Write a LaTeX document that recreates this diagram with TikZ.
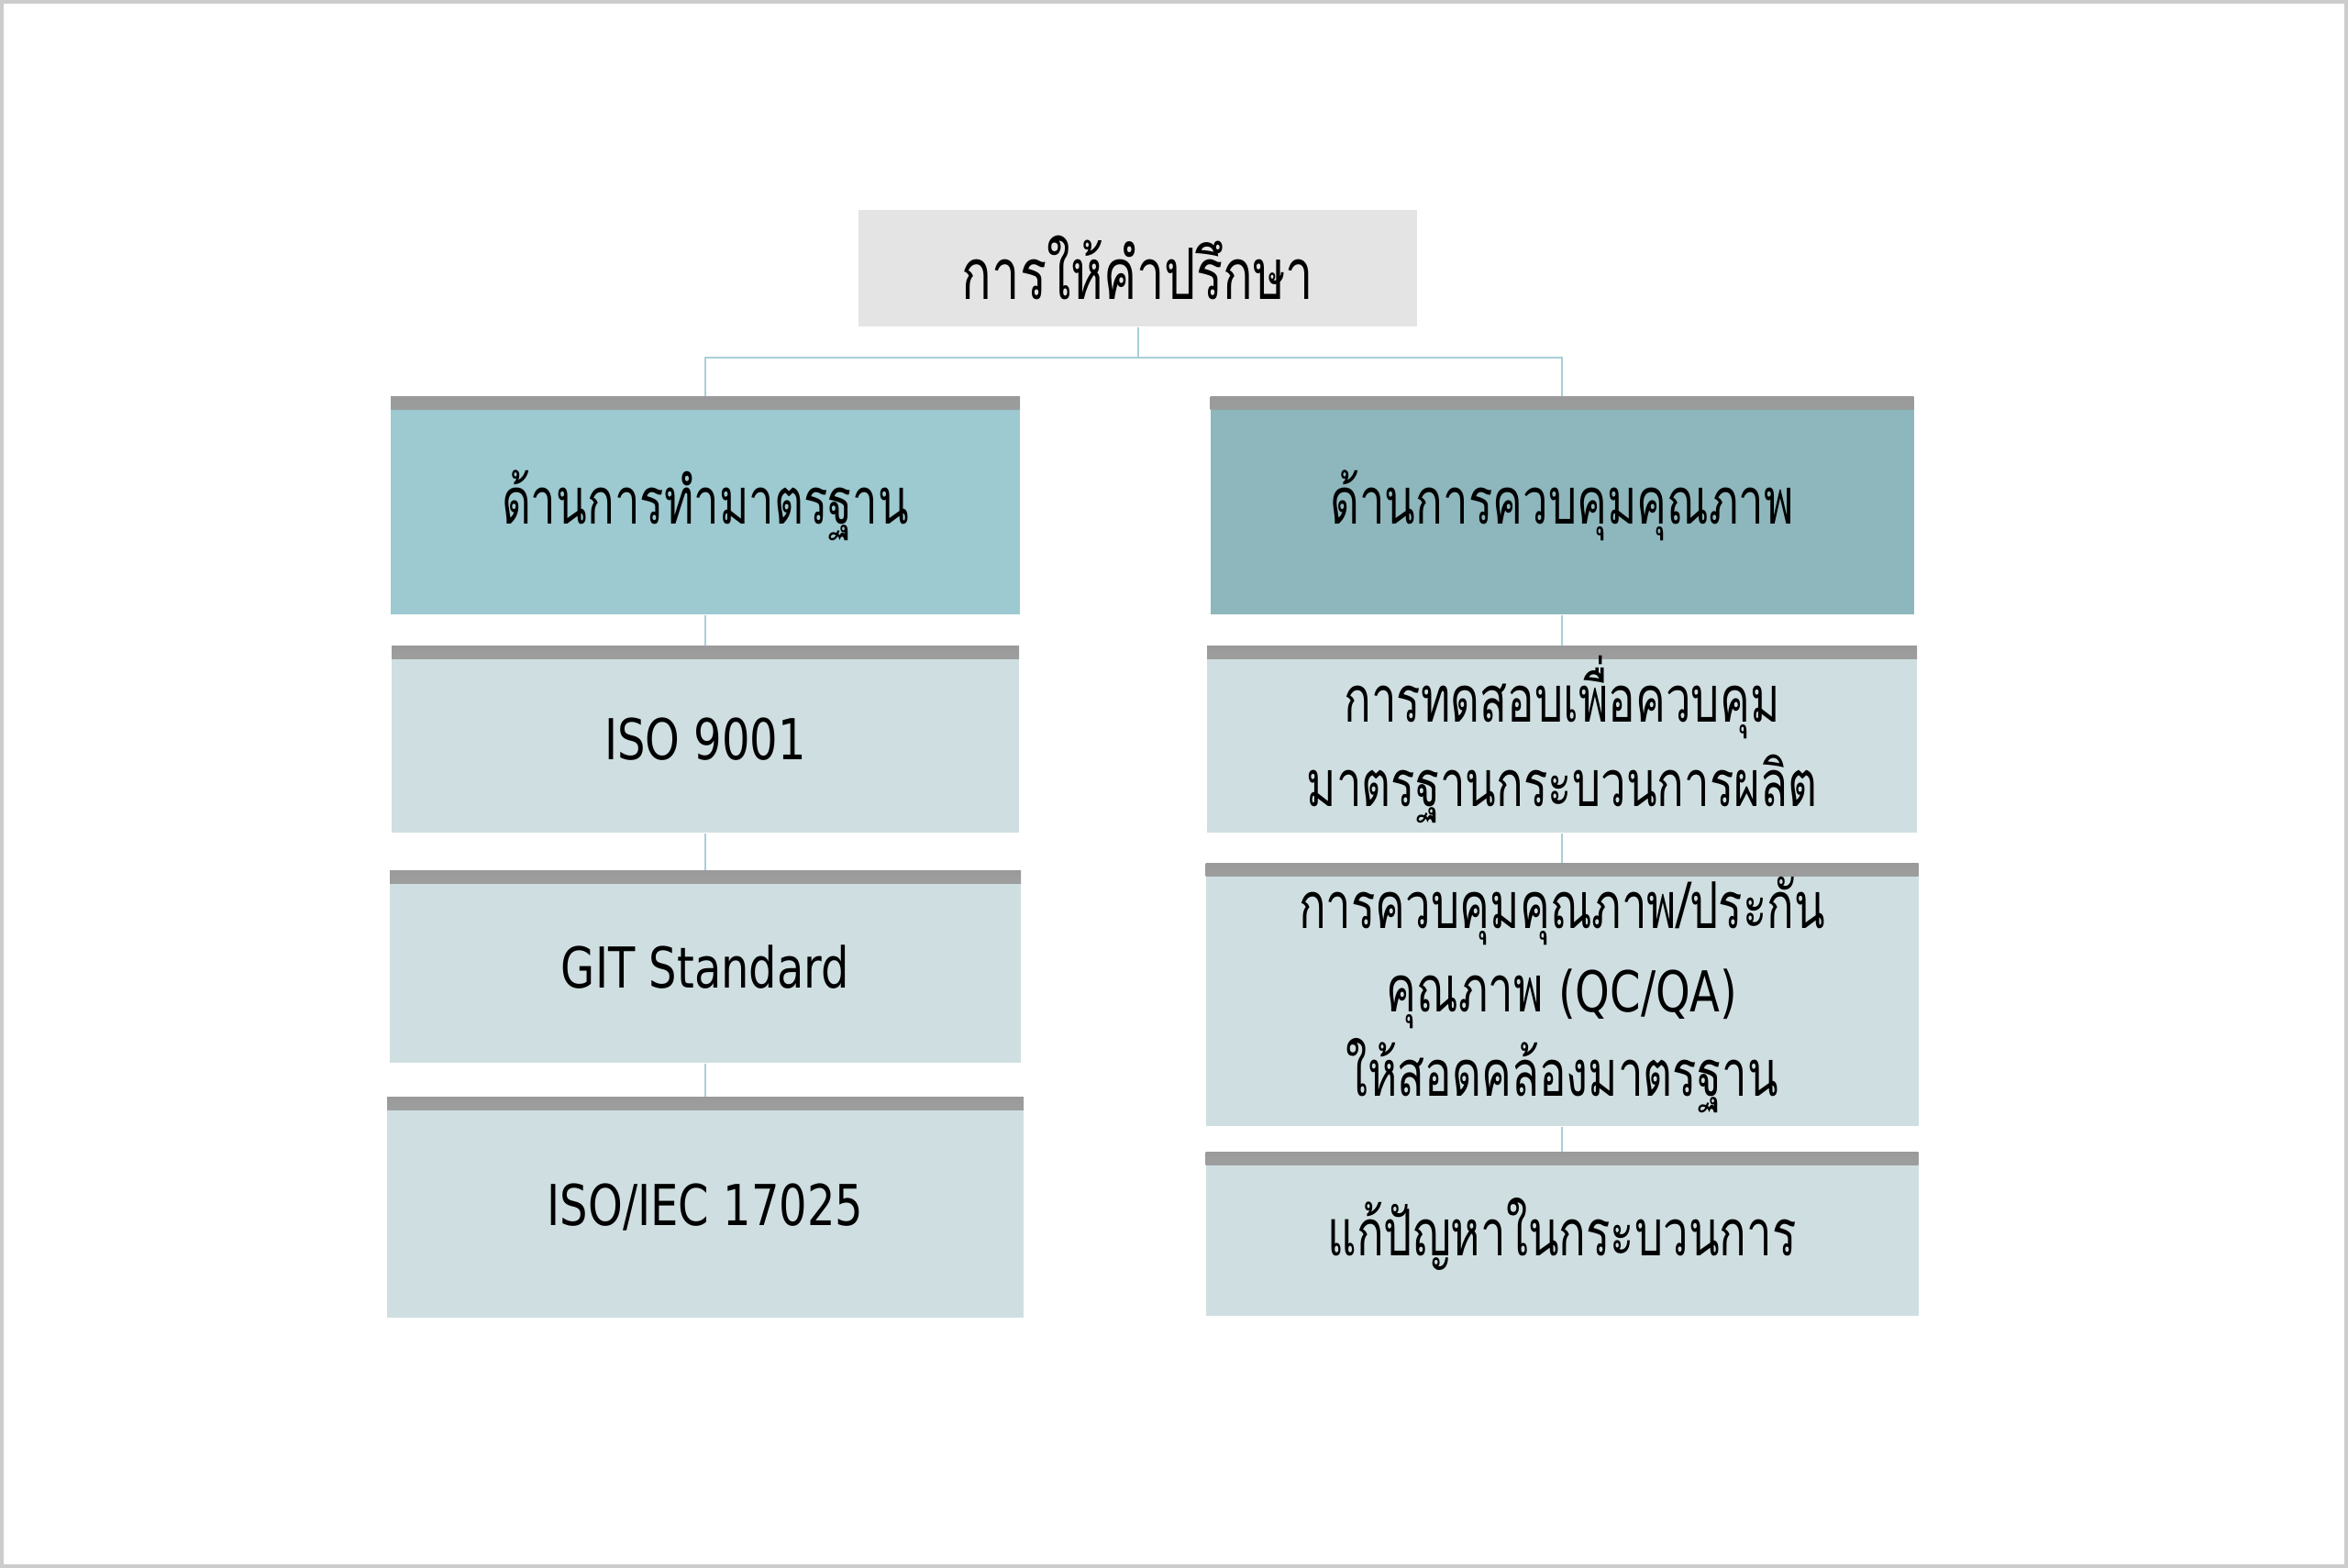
\documentclass[tikz,border=0pt]{standalone}
\usepackage{fontspec}
\usepackage{xcolor}
\setmainfont[Script=Thai, FakeStretch=0.70]{Loma}
\newfontfamily\latinfont[FakeStretch=0.78]{DejaVu Sans}
\newcommand{\lat}[1]{{\latinfont\fontsize{17.5}{26}\selectfont #1}}
\usetikzlibrary{positioning}

\definecolor{topgray}{HTML}{E4E4E4}
\definecolor{headA}{HTML}{9DC9D0}
\definecolor{headB}{HTML}{8DB7BC}
\definecolor{itembg}{HTML}{CFDFE1}
\definecolor{linkc}{HTML}{A9CFD6}
\definecolor{framec}{HTML}{CCCCCC}
\definecolor{bandc}{HTML}{9A9A9A}

\begin{document}
\begin{tikzpicture}[
        box/.style={rectangle, inner sep=0pt, align=center, font=\fontsize{20}{26}\selectfont, fill=#1,
            path picture={\shade[top color=bandc, bottom color=#1]
                (path picture bounding box.north west) rectangle ([yshift=-0.14cm]path picture bounding box.north east);}},
        link/.style={draw=linkc, line width=0.02cm}
    ]
    \fill[white](0, 0)rectangle(25.6, 17.1);
    \draw[framec, line width=0.04cm](0.02, 0.02)rectangle(25.58, 17.08);

    % top
    \node[rectangle, fill=topgray, minimum width=6.09cm, minimum height=1.27cm, font=\fontsize{22}{26}\selectfont]
        (advice) at (12.405, 14.175) {การให้คำปรึกษา};

    % two branches
    \node[box=headA, minimum width=6.86cm, minimum height=2.37cm](stdhead) at (7.69, 11.585) {ด้านการทำมาตรฐาน};
    \node[box=headB, minimum width=7.67cm, minimum height=2.37cm](qchead) at (17.03, 11.585) {ด้านการควบคุมคุณภาพ};

    % left items
    \node[box=itembg, minimum width=6.84cm, minimum height=2.03cm](iso) at (7.69, 9.035) {\lat{ISO 9001}};
    \node[box=itembg, minimum width=6.88cm, minimum height=2.09cm](git) at (7.69, 6.555) {\lat{GIT Standard}};
    \node[box=itembg, minimum width=6.94cm, minimum height=2.40cm](iec) at (7.69, 3.93) {\lat{ISO/IEC 17025}};

    % right items
    \node[box=itembg, minimum width=7.74cm, minimum height=2.03cm](test) at (17.03, 9.035) {การทดสอบเพื่อควบคุม\\มาตรฐานกระบวนการผลิต};
    \node[box=itembg, minimum width=7.77cm, minimum height=2.86cm](qcqa) at (17.03, 6.25) {การควบคุมคุณภาพ/ประกัน\\คุณภาพ \lat{(QC/QA)}\\ให้สอดคล้องมาตรฐาน};
    \node[box=itembg, minimum width=7.77cm, minimum height=1.78cm](solve) at (17.03, 3.64) {แก้ปัญหาในกระบวนการ};

    \draw[link](advice.south)--++(0, -0.33)-|(stdhead.north);
    \draw[link](advice.south)--++(0, -0.33)-|(qchead.north);
    \draw[link](stdhead.south)--(iso.north);
    \draw[link](iso.south)--(git.north);
    \draw[link](git.south)--(iec.north);
    \draw[link](qchead.south)--(test.north);
    \draw[link](test.south)--(qcqa.north);
    \draw[link](qcqa.south)--(solve.north);
\end{tikzpicture}
\end{document}
